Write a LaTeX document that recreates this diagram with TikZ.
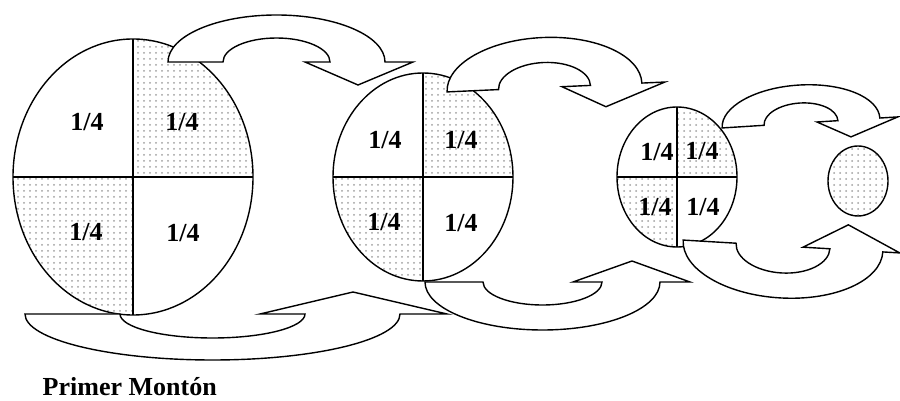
\documentclass[tikz,border=0pt]{standalone}
\usepackage{fontspec}
\setmainfont{Liberation Serif}
\usetikzlibrary{patterns}

\begin{document}
\begin{tikzpicture}[x=0.5pt, y=0.5pt, line width=0.7pt,
    stipple/.style = {pattern=dots, pattern color=gray!75},
    quarter/.style = {font=\fontsize{13}{15}\selectfont\bfseries, inner sep=0pt},
    swirl/.style = {draw, fill=white}]
\useasboundingbox (0,0) rectangle (900,401);
% heaps
\coordinate (c1) at (133,224);
\coordinate (c2) at (423,224);
\coordinate (c3) at (677,224);
\coordinate (c4) at (858,220);

\begin{scope}
  \clip (c1) ellipse [x radius=120, y radius=138];
  \fill[stipple] (c1) rectangle ++(120,138);
  \fill[stipple] (c1) rectangle ++(-120,-138);
\end{scope}
\begin{scope}
  \clip (c2) ellipse [x radius=90, y radius=104];
  \fill[stipple] (c2) rectangle ++(90,104);
  \fill[stipple] (c2) rectangle ++(-90,-104);
\end{scope}
\begin{scope}
  \clip (c3) ellipse [x radius=60, y radius=70];
  \fill[stipple] (c3) rectangle ++(60,70);
  \fill[stipple] (c3) rectangle ++(-60,-70);
\end{scope}
\fill[stipple] (c4) ellipse [x radius=30, y radius=35];

\draw (c1) ellipse [x radius=120, y radius=138];
\draw (c1) ++(0,138) -- ++(0,-276);
\draw (c1) ++(-120,0) -- ++(240,0);
\draw (c2) ellipse [x radius=90, y radius=104];
\draw (c2) ++(0,104) -- ++(0,-208);
\draw (c2) ++(-90,0) -- ++(180,0);
\draw (c3) ellipse [x radius=60, y radius=70];
\draw (c3) ++(0,70) -- ++(0,-140);
\draw (c3) ++(-60,0) -- ++(120,0);
\draw (c4) ellipse [x radius=30, y radius=35];

\node[quarter] (11) at (87,279) {1/4};
\node[quarter] (12) at (182,279) {1/4};
\node[quarter] (13) at (86,169) {1/4};
\node[quarter] (14) at (183,168) {1/4};
\node[quarter] (21) at (385,261) {1/4};
\node[quarter] (22) at (461,261) {1/4};
\node[quarter] (23) at (384,179) {1/4};
\node[quarter] (24) at (461,178) {1/4};
\node[quarter] (31) at (657,249) {1/4};
\node[quarter] (32) at (702,250) {1/4};
\node[quarter] (33) at (655,194) {1/4};
\node[quarter] (34) at (703,194) {1/4};

% arrows over the top
\draw[swirl, shift={(276.5,339)}] (-108.5,0) arc[start angle=180, end angle=0, x radius=108.5, y radius=47]
  -- (136.5,0) -- (81.5,-23) -- (28.5,0) -- (53.5,0) arc[start angle=0, end angle=180, x radius=53.5, y radius=24] -- cycle;
\draw[swirl, shift={(544.5,313.5)}, rotate=2.6] (-97.5,0) arc[start angle=180, end angle=0, x radius=97.5, y radius=50]
  -- (120.5,0) -- (60.5,-22) -- (17.5,0) -- (46,0) arc[start angle=0, end angle=180, x radius=46, y radius=25] -- cycle;
\draw[swirl, shift={(801,278)}, rotate=3.6] (-79,0) arc[start angle=180, end angle=0, x radius=79, y radius=38]
  -- (97,0) -- (49,-17) -- (16,0) -- (37,0) arc[start angle=0, end angle=180, x radius=37, y radius=20] -- cycle;
% arrows underneath
\draw[swirl, shift={(212.5,87)}] (-187.5,0) arc[start angle=180, end angle=360, x radius=187.5, y radius=46]
  -- (234.5,0) -- (140.5,22) -- (47.5,0) -- (92.5,0) arc[start angle=360, end angle=180, x radius=92.5, y radius=24] -- cycle;
\draw[swirl, shift={(542.5,119)}] (-117.5,0) arc[start angle=180, end angle=360, x radius=117.5, y radius=48]
  -- (147.5,0) -- (89.5,21) -- (30.5,0) -- (59.5,0) arc[start angle=360, end angle=180, x radius=59.5, y radius=23] -- cycle;
\draw[swirl, shift={(783,155)}, rotate=-3.4] (-100,0) arc[start angle=180, end angle=360, x radius=100, y radius=52]
  -- (117,0) -- (64,25) -- (20,0) -- (47,0) arc[start angle=360, end angle=180, x radius=47, y radius=27] -- cycle;

\node[font=\fontsize{13}{15}\selectfont\bfseries, anchor=base west, inner sep=0pt] (pm) at (42,5) {Primer Montón};
\end{tikzpicture}
\end{document}
